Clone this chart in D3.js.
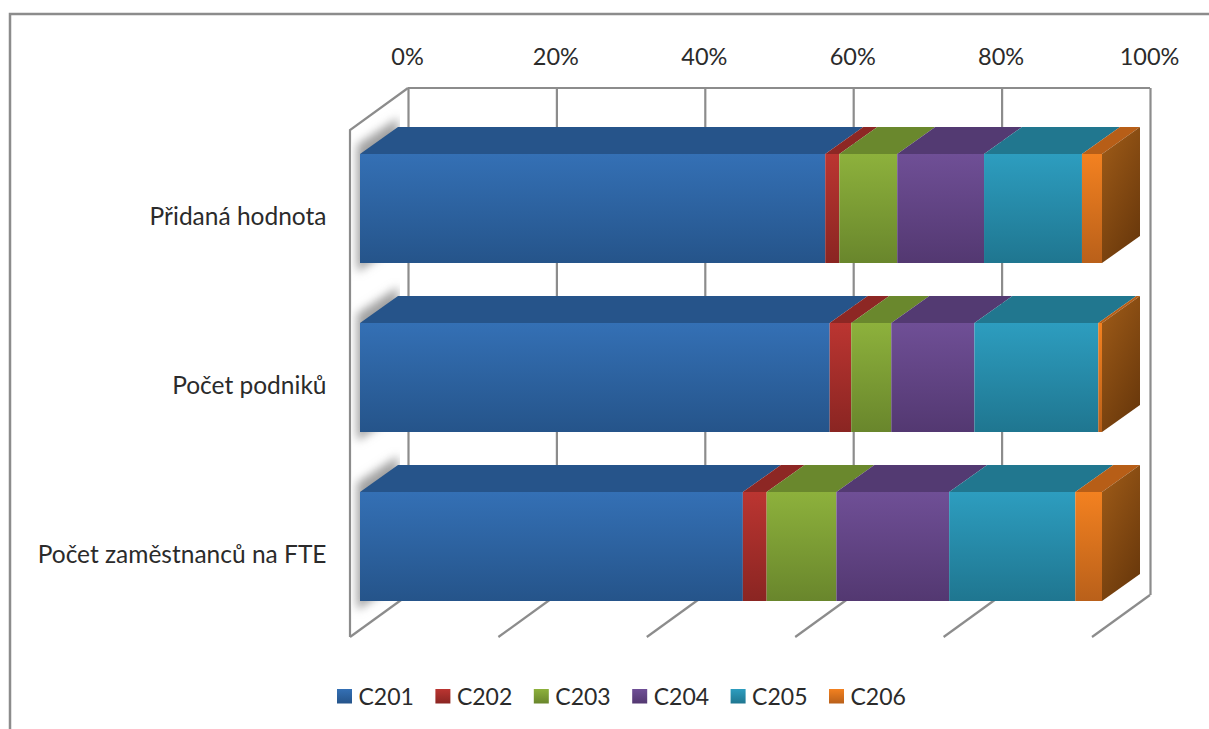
<!DOCTYPE html>
<html>
<head>
    <meta charset="utf-8">
    <title>Struktura odvětví</title>
    <style>
        html, body { margin: 0; padding: 0; background: #fff; overflow: hidden; }
        svg { display: block; }
        text { font-family: Lato, sans-serif; fill: #2b2b2b; }
    </style>
</head>
<body>
    <div id="graf"></div>
    <script src="https://d3js.org/d3.v7.min.js"></script>
    <script>
        // Data
        const categories = ["Přidaná hodnota", "Počet podniků", "Počet zaměstnanců na FTE"];
        const seriesNames = ["C201", "C202", "C203", "C204", "C205", "C206"];
        const c201 = [62.7, 63.3, 51.6];
        const c202 = [1.9, 2.9, 3.2];
        const c203 = [7.8, 5.4, 9.4];
        const c204 = [11.7, 11.2, 15.2];
        const c205 = [13.2, 16.7, 17.0];
        const c206 = [2.7, 0.5, 3.6];
        const tickValues = [0, 20, 40, 60, 80, 100];

        // Barvy: horní a dolní okraj přechodu čelní stěny, horní stěna
        const colorTop = ["#3470b5", "#bb3531", "#8db13c", "#6f4f96", "#2d9dbf", "#f38120"];
        const colorBottom = ["#25548a", "#8a2522", "#69862c", "#533871", "#1f7690", "#b9601a"];
        const colorRoof = ["#26548a", "#8d2724", "#6a882d", "#533a72", "#21778f", "#b75e17"];

        const width = 1209, height = 729;

        // Posun zadní stěny a hloubka sloupce
        const wallDx = 58, wallDy = 42;
        const barDx = 38, barDy = 27;

        const svg = d3.select("#graf").append("svg")
            .attr("width", width)
            .attr("height", height);

        const defs = svg.append("defs");

        seriesNames.forEach((name, i) => {
            const g = defs.append("linearGradient")
                .attr("id", "grad" + name)
                .attr("x1", 0).attr("y1", 0).attr("x2", 0).attr("y2", 1);
            g.append("stop").attr("offset", "0%").attr("stop-color", colorTop[i]);
            g.append("stop").attr("offset", "100%").attr("stop-color", colorBottom[i]);
        });

        const sideGrad = defs.append("linearGradient")
            .attr("id", "gradSide")
            .attr("x1", 0).attr("y1", 0).attr("x2", 0.6).attr("y2", 1);
        sideGrad.append("stop").attr("offset", "0%").attr("stop-color", "#a05c18");
        sideGrad.append("stop").attr("offset", "100%").attr("stop-color", "#6c3a0c");

        defs.append("filter")
            .attr("id", "rozmazani")
            .attr("x", "-30%").attr("y", "-30%").attr("width", "160%").attr("height", "160%")
            .append("feGaussianBlur").attr("stdDeviation", 5);

        // Rámeček grafu
        svg.append("path")
            .attr("d", `M10,${height} V14 H${width}`)
            .attr("fill", "none")
            .attr("stroke", "#8c8c8c")
            .attr("stroke-width", 2.5);

        // Měřítka: xFront pro čelo sloupců, xWall pro zadní stěnu, xFloor pro přední hranu podlahy
        const xFront = d3.scaleLinear().domain([0, 100]).range([360, 1102]);
        const xWall = d3.scaleLinear().domain([0, 100]).range([408, 1150]);
        const xFloor = d3.scaleLinear().domain([0, 100]).range([408 - wallDx, 1150 - wallDx]);
        const y = d3.scaleBand()
            .domain(categories)
            .range([124, 631])
            .paddingInner(60 / 169)
            .paddingOuter(30 / 169);

        const wallTop = 88, wallBottom = 595;
        const lineColor = "#8c8c8c";

        // Stín sloupců na boční stěně
        const shadows = svg.append("g")
            .attr("clip-path", "url(#stena)");
        defs.append("clipPath").attr("id", "stena")
            .append("path")
            .attr("d", `M${xFloor(0) + 2},${wallTop + wallDy + 1} L${xWall(0) - 8},${wallTop + 6}
                        V${wallBottom} L${xFloor(0) + 2},${wallBottom + wallDy} Z`);
        shadows.selectAll("path")
            .data(categories)
            .join("path")
            .attr("d", d => {
                const t = y(d), b = t + y.bandwidth();
                return `M${xFront(0) - 3},${t - 9} L${xFront(0) + barDx},${t - barDy - 9}
                        V${b - barDy + 9} L${xFront(0) - 3},${b + 9} Z`;
            })
            .attr("fill", "#a0a0a0")
            .attr("filter", "url(#rozmazani)");

        // Zadní stěna s mřížkou a popisky os
        svg.append("g")
            .attr("transform", `translate(0,${wallTop})`)
            .call(d3.axisTop(xWall)
                .tickValues(tickValues)
                .tickFormat(d => d + "%")
                .tickSize(-(wallBottom - wallTop))
                .tickPadding(23))
            .call(g => g.select(".domain").remove())
            .call(g => g.selectAll("line").attr("stroke", lineColor).attr("stroke-width", 2.2))
            .call(g => g.selectAll("text").style("font-size", "23.5px").attr("fill", "#2b2b2b").attr("dx", -1));

        svg.append("line")
            .attr("x1", xWall(0)).attr("x2", xWall(100))
            .attr("y1", wallTop).attr("y2", wallTop)
            .attr("stroke", lineColor).attr("stroke-width", 2.2);

        // Boční stěna
        svg.append("path")
            .attr("d", `M${xFloor(0)},${wallBottom + wallDy} V${wallTop + wallDy} L${xWall(0)},${wallTop}`)
            .attr("fill", "none")
            .attr("stroke", lineColor)
            .attr("stroke-width", 2.2);

        // Podlaha
        svg.append("g")
            .selectAll("line")
            .data(tickValues)
            .join("line")
            .attr("x1", d => xFloor(d))
            .attr("y1", wallBottom + wallDy)
            .attr("x2", d => xWall(d))
            .attr("y2", wallBottom)
            .attr("stroke", lineColor)
            .attr("stroke-width", 2.2);

        // Skládané sloupce
        const table = categories.map((c, i) => ({
            category: c,
            C201: c201[i], C202: c202[i], C203: c203[i],
            C204: c204[i], C205: c205[i], C206: c206[i]
        }));
        const stacked = d3.stack().keys(seriesNames)(table);

        const layers = svg.append("g")
            .selectAll("g")
            .data(stacked)
            .join("g");

        // Horní stěny
        layers.selectAll("path")
            .data((s, i) => s.map(d => ({ d, i })))
            .join("path")
            .attr("d", ({ d }) => {
                const t = y(d.data.category);
                return `M${xFront(d[0])},${t} L${xFront(d[1])},${t}
                        L${xFront(d[1]) + barDx},${t - barDy} L${xFront(d[0]) + barDx},${t - barDy} Z`;
            })
            .attr("fill", ({ i }) => colorRoof[i]);

        // Čelní stěny
        layers.selectAll("rect")
            .data((s, i) => s.map(d => ({ d, i })))
            .join("rect")
            .attr("x", ({ d }) => xFront(d[0]))
            .attr("y", ({ d }) => y(d.data.category))
            .attr("width", ({ d }) => xFront(d[1]) - xFront(d[0]))
            .attr("height", y.bandwidth())
            .attr("fill", ({ i }) => `url(#grad${seriesNames[i]})`);

        // Pravá boční stěna posledního dílu
        svg.append("g")
            .selectAll("path")
            .data(stacked[stacked.length - 1])
            .join("path")
            .attr("d", d => {
                const t = y(d.data.category), b = t + y.bandwidth(), r = xFront(d[1]);
                return `M${r},${t} L${r + barDx},${t - barDy} V${b - barDy} L${r},${b} Z`;
            })
            .attr("fill", "url(#gradSide)");

        // Popisky kategorií
        svg.append("g")
            .attr("transform", "translate(326.5,8.5)")
            .call(d3.axisLeft(y).tickSize(0).tickPadding(0))
            .call(g => g.select(".domain").remove())
            .call(g => g.selectAll("text").style("font-size", "24.5px").attr("fill", "#2b2b2b"));

        // Legenda
        const legendX = d3.scalePoint().domain(seriesNames).range([337, 829]);
        const legend = svg.append("g")
            .selectAll("g")
            .data(seriesNames)
            .join("g")
            .attr("transform", d => `translate(${legendX(d)},689)`);

        legend.append("rect")
            .attr("width", 15)
            .attr("height", 14.5)
            .attr("fill", d => `url(#grad${d})`);

        legend.append("text")
            .attr("x", 21.5)
            .attr("y", 16)
            .style("font-size", "23px")
            .text(d => d);
    </script>
</body>
</html>
